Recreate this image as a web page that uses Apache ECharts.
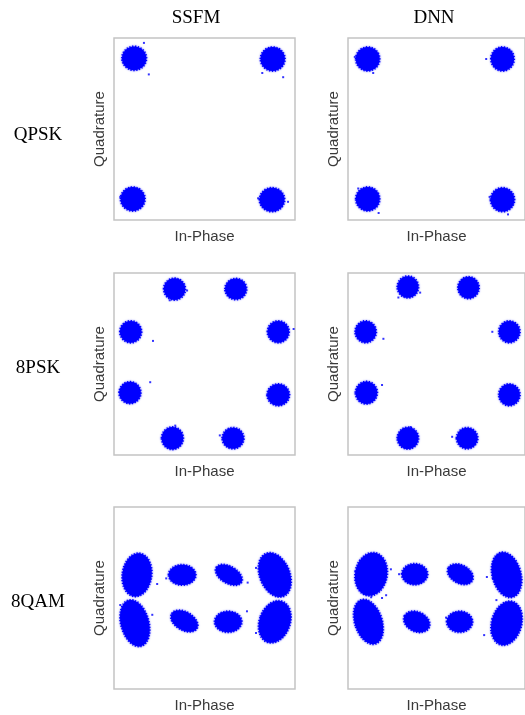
<!DOCTYPE html>
<html>
<head>
<meta charset="utf-8">
<script src="https://cdn.jsdelivr.net/npm/echarts@6/dist/echarts.min.js"></script>
<style>
html,body{margin:0;padding:0;background:#fff;}
#chart{width:525px;height:715px;}
</style>
</head>
<body>
<div id="chart"></div>
<script>
// Column and row labels
const columnTitles = ['SSFM', 'DNN'];
const rowTitles = ['QPSK', '8PSK', '8QAM'];
const axisNameI = 'In-Phase';
const axisNameQ = 'Quadrature';

// ---- QPSK (cluster centres, spreads (half-width/half-height), tilt in degrees) ----
const qpskSsfmI = [-1.01, 0.98, -1.03, 0.97];
const qpskSsfmQ = [1.01, 1.00, -1.00, -1.01];
const qpskSsfmSpreadI = [0.175, 0.175, 0.175, 0.18];
const qpskSsfmSpreadQ = [0.17, 0.17, 0.17, 0.17];
const qpskSsfmTilt = [0, 0, 0, 0];
const qpskSsfmStrayI = [-0.87, 1.13, 0.83, -1.21, 0.77, 1.20, -0.80];
const qpskSsfmStrayQ = [1.23, 0.74, 0.80, -0.97, -0.99, -1.04, 0.78];

const qpskDnnI = [-1.01, 0.97, -1.01, 0.97];
const qpskDnnQ = [1.00, 1.00, -1.00, -1.01];
const qpskDnnSpreadI = [0.175, 0.17, 0.175, 0.175];
const qpskDnnSpreadQ = [0.17, 0.17, 0.17, 0.17];
const qpskDnnTilt = [0, 0, 0, 0];
const qpskDnnStrayI = [-1.20, -0.93, 0.73, 0.78, 1.05, -1.15, -0.85];
const qpskDnnStrayQ = [1.03, 0.80, 1.00, -0.97, -1.22, -0.85, -1.20];

// ---- 8PSK ----
const psk8SsfmI = [-0.43, 0.45, -1.06, 1.06, -1.07, 1.06, -0.46, 0.41];
const psk8SsfmQ = [1.07, 1.07, 0.46, 0.46, -0.41, -0.44, -1.06, -1.06];
const psk8SsfmSpreadI = [0.155, 0.155, 0.155, 0.155, 0.155, 0.16, 0.155, 0.155];
const psk8SsfmSpreadQ = [0.155, 0.15, 0.155, 0.155, 0.155, 0.155, 0.16, 0.15];
const psk8SsfmTilt = [0, 0, 0, 0, 0, 0, 0, 0];
const psk8SsfmStrayI = [-0.25, -0.74, -0.78, 1.28, -0.42, 0.22, -0.50];
const psk8SsfmStrayQ = [1.05, 0.33, -0.26, 0.50, -0.88, -1.02, 0.91];

const psk8DnnI = [-0.42, 0.47, -1.04, 1.07, -1.03, 1.07, -0.42, 0.45];
const psk8DnnQ = [1.10, 1.09, 0.46, 0.46, -0.41, -0.44, -1.06, -1.06];
const psk8DnnSpreadI = [0.155, 0.155, 0.155, 0.155, 0.16, 0.155, 0.155, 0.155];
const psk8DnnSpreadQ = [0.155, 0.155, 0.155, 0.155, 0.16, 0.155, 0.155, 0.15];
const psk8DnnTilt = [0, 0, 0, 0, 0, 0, 0, 0];
const psk8DnnStrayI = [-0.24, -0.78, -0.80, 0.82, -0.38, 0.23, -0.56];
const psk8DnnStrayQ = [1.02, 0.36, -0.30, 0.46, -0.90, -1.04, 0.95];

// ---- 8QAM ----
const qam8SsfmI = [-0.97, -1.00, -0.32, 0.35, -0.29, 0.34, 1.01, 1.01];
const qam8SsfmQ = [0.33, -0.36, 0.33, 0.33, -0.33, -0.34, 0.33, -0.34];
const qam8SsfmSpreadI = [0.21, 0.20, 0.195, 0.21, 0.21, 0.195, 0.215, 0.22];
const qam8SsfmSpreadQ = [0.31, 0.34, 0.145, 0.12, 0.13, 0.15, 0.33, 0.31];
const qam8SsfmTilt = [-8, 15, 0, -30, -30, 0, 22, -20];
const qam8SsfmStrayI = [0.61, 0.74, -0.75, -1.21, -0.68, 0.30, -0.55, 0.62, -0.45, 0.74];
const qam8SsfmStrayQ = [-0.19, 0.43, -0.24, -0.10, 0.20, -0.22, 0.28, 0.22, -0.22, -0.50];

const qam8DnnI = [-0.96, -1.00, -0.32, 0.35, -0.29, 0.34, 1.03, 1.03];
const qam8DnnQ = [0.34, -0.34, 0.34, 0.34, -0.34, -0.34, 0.33, -0.36];
const qam8DnnSpreadI = [0.235, 0.20, 0.19, 0.20, 0.20, 0.19, 0.21, 0.22];
const qam8DnnSpreadQ = [0.31, 0.33, 0.15, 0.13, 0.14, 0.15, 0.33, 0.32];
const qam8DnnTilt = [-10, 18, 0, -28, -25, 0, 15, -15];
const qam8DnnStrayI = [-0.80, -0.74, -0.67, 0.70, 0.74, -0.96, 0.88, 0.81, 0.14, -0.55];
const qam8DnnStrayQ = [0.00, 0.04, 0.41, -0.53, 0.30, 0.01, -0.03, -0.50, -0.28, 0.34];

const panels = [
  [qpskSsfmI, qpskSsfmQ, qpskSsfmSpreadI, qpskSsfmSpreadQ, qpskSsfmTilt, qpskSsfmStrayI, qpskSsfmStrayQ],
  [qpskDnnI, qpskDnnQ, qpskDnnSpreadI, qpskDnnSpreadQ, qpskDnnTilt, qpskDnnStrayI, qpskDnnStrayQ],
  [psk8SsfmI, psk8SsfmQ, psk8SsfmSpreadI, psk8SsfmSpreadQ, psk8SsfmTilt, psk8SsfmStrayI, psk8SsfmStrayQ],
  [psk8DnnI, psk8DnnQ, psk8DnnSpreadI, psk8DnnSpreadQ, psk8DnnTilt, psk8DnnStrayI, psk8DnnStrayQ],
  [qam8SsfmI, qam8SsfmQ, qam8SsfmSpreadI, qam8SsfmSpreadQ, qam8SsfmTilt, qam8SsfmStrayI, qam8SsfmStrayQ],
  [qam8DnnI, qam8DnnQ, qam8DnnSpreadI, qam8DnnSpreadQ, qam8DnnTilt, qam8DnnStrayI, qam8DnnStrayQ]
];

// ---- layout ----
const colLeft = [114, 348];
const rowTop = [38, 273, 507];
const boxW = 181, boxH = 182;
const axisMin = -1.3, axisMax = 1.3;
const blue = '#0000ff';

const grids = [], xAxes = [], yAxes = [], series = [];
panels.forEach((p, k) => {
  const r = Math.floor(k / 2), c = k % 2;
  grids.push({
    left: colLeft[c], top: rowTop[r], width: boxW, height: boxH,
    show: true, borderColor: '#c4c4c4', borderWidth: 1.5, backgroundColor: '#fff'
  });
  xAxes.push({
    gridIndex: k, type: 'value', min: axisMin, max: axisMax,
    axisLine: { show: false }, axisTick: { show: false }, axisLabel: { show: false }, splitLine: { show: false },
    name: axisNameI, nameLocation: 'middle', nameGap: 9,
    nameTextStyle: { fontFamily: 'Liberation Sans', fontSize: 15, color: '#3a3a3a', verticalAlign: 'top' }
  });
  yAxes.push({
    gridIndex: k, type: 'value', min: axisMin, max: axisMax,
    axisLine: { show: false }, axisTick: { show: false }, axisLabel: { show: false }, splitLine: { show: false },
    name: axisNameQ, nameLocation: 'middle', nameGap: 7,
    nameTextStyle: { fontFamily: 'Liberation Sans', fontSize: 15, color: '#3a3a3a', verticalAlign: 'bottom' }
  });
  const clusterData = p[0].map((v, i) => [v, p[1][i], p[2][i], p[3][i], p[4][i]]);
  series.push({
    type: 'custom', xAxisIndex: k, yAxisIndex: k, silent: true, clip: true,
    data: clusterData,
    renderItem: function (params, api) {
      const ctr = api.coord([api.value(0), api.value(1)]);
      const sz = api.size([api.value(2), api.value(3)]);
      return {
        type: 'ellipse',
        x: ctr[0], y: ctr[1],
        rotation: api.value(4) * Math.PI / 180,
        shape: { cx: 0, cy: 0, rx: sz[0], ry: sz[1] },
        style: { fill: blue, stroke: blue, lineWidth: 2, lineDash: [1.2, 1.6],
                 shadowBlur: 2, shadowColor: 'rgba(0,0,255,0.6)' }
      };
    }
  });
  series.push({
    type: 'scatter', xAxisIndex: k, yAxisIndex: k, silent: true,
    symbol: 'rect', symbolSize: 2,
    itemStyle: { color: blue },
    data: p[5].map((v, i) => [v, p[6][i]])
  });
});

const graphics = [];
const titleX = [196, 434];
columnTitles.forEach((t, i) => graphics.push({
  type: 'text', x: titleX[i], y: 18,
  style: { text: t, font: '19px "Liberation Serif"', fill: '#000', textAlign: 'center', textVerticalAlign: 'middle' }
}));
const rowY = [135, 368, 602];
rowTitles.forEach((t, i) => graphics.push({
  type: 'text', x: 38, y: rowY[i],
  style: { text: t, font: '19px "Liberation Serif"', fill: '#000', textAlign: 'center', textVerticalAlign: 'middle' }
}));

const chart = echarts.init(document.getElementById('chart'), null, { renderer: 'canvas' });
chart.setOption({
  animation: false,
  backgroundColor: '#fff',
  grid: grids, xAxis: xAxes, yAxis: yAxes, series: series,
  graphic: graphics
});
</script>
</body>
</html>
